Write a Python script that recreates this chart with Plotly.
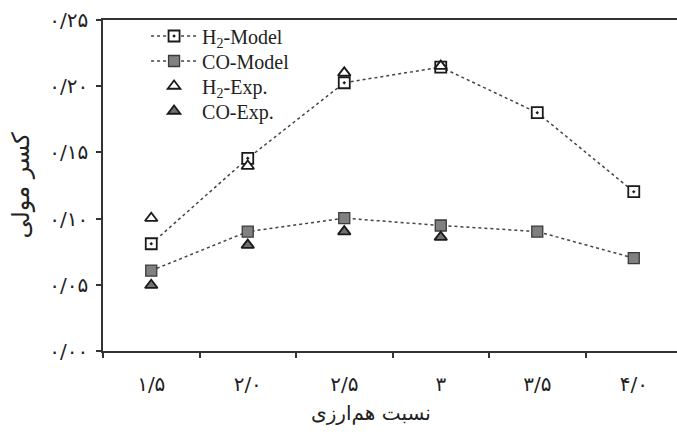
import plotly.graph_objects as go

# Equivalence ratio categories (Persian numerals)
ratios = ["۱/۵", "۲/۰", "۲/۵", "۳", "۳/۵", "۴/۰"]

# Mole fractions
h2_model = [0.081, 0.1455, 0.2026, 0.2144, 0.180, 0.1203]
co_model = [0.0607, 0.0902, 0.1003, 0.0948, 0.0902, 0.0702]
h2_exp = [0.1003, 0.1397, 0.2101, 0.2152]
co_exp = [0.0497, 0.080, 0.0902, 0.086]

y_ticks = [0.0, 0.05, 0.10, 0.15, 0.20, 0.25]
y_ticktext = ["۰/۰۰", "۰/۰۵", "۰/۱۰", "۰/۱۵", "۰/۲۰", "۰/۲۵"]

x_title = "نسبت هم‌ارزی"
y_title = "کسر مولی"

line_style = dict(color="#444444", width=1.5, dash="dot")
persian_font = "DejaVu Sans"
ink = "#222222"

fig = go.Figure()
fig.add_trace(go.Scatter(
    x=ratios, y=h2_model, name="H<sub>2</sub>-Model", mode="lines+markers",
    line=line_style, legend="legend",
    marker=dict(symbol="square-dot", size=11, color="white",
                line=dict(color="#1a1a1a", width=1.8)),
))
fig.add_trace(go.Scatter(
    x=ratios, y=co_model, name="CO-Model", mode="lines+markers",
    line=line_style, legend="legend2",
    marker=dict(symbol="square", size=11, color="#808080",
                line=dict(color="#3a3a3a", width=1.3)),
))
fig.add_trace(go.Scatter(
    x=ratios[:len(h2_exp)], y=h2_exp, name="H<sub>2</sub>-Exp.", mode="markers",
    legend="legend3",
    marker=dict(symbol="triangle-up", size=11, color="white",
                line=dict(color="#1a1a1a", width=1.8)),
))
fig.add_trace(go.Scatter(
    x=ratios[:len(co_exp)], y=co_exp, name="CO-Exp.", mode="markers",
    legend="legend4",
    marker=dict(symbol="triangle-up", size=11, color="#707070",
                line=dict(color="#1a1a1a", width=1.8)),
))

legend_common = dict(
    xanchor="left", yanchor="middle", x=0.075,
    bgcolor="rgba(0,0,0,0)",
    font=dict(family="Liberation Serif", size=20, color=ink),
    itemwidth=46,
)

fig.update_layout(
    width=677, height=434,
    margin=dict(l=103, r=0, t=20, b=83),
    plot_bgcolor="white", paper_bgcolor="white",
    font=dict(family=persian_font, color=ink),
    showlegend=True,
    legend=dict(legend_common, y=1 - (36 - 20) / 331),
    legend2=dict(legend_common, y=1 - (61 - 20) / 331),
    legend3=dict(legend_common, y=1 - (86 - 20) / 331),
    legend4=dict(legend_common, y=1 - (111 - 20) / 331),
    xaxis=dict(
        type="category", range=[-0.5, 5.448],
        showline=True, linecolor="#333333", linewidth=1.5, mirror=True,
        ticks="outside", ticklen=5, tickwidth=1.5, tickcolor="#333333",
        tickson="boundaries", showgrid=False, zeroline=False,
        ticklabelstandoff=14,
        tickfont=dict(family=persian_font, size=20, color=ink),
    ),
    yaxis=dict(
        range=[0, 0.25], tickvals=y_ticks, ticktext=y_ticktext,
        showline=True, linecolor="#333333", linewidth=1.5,
        ticks="outside", ticklen=5, tickwidth=1.5, tickcolor="#333333",
        showgrid=False, zeroline=False, ticklabelstandoff=4,
        tickfont=dict(family=persian_font, size=20, color=ink),
    ),
    annotations=[
        dict(text=x_title, xref="paper", yref="paper",
             x=(371 - 103) / 574, y=-(413 - 351) / 331,
             xanchor="center", yanchor="middle", showarrow=False,
             font=dict(family=persian_font, size=20, color=ink)),
        dict(text=y_title, xref="paper", yref="paper",
             x=-(103 - 20) / 574, y=0.5, textangle=-90,
             xanchor="center", yanchor="middle", showarrow=False,
             font=dict(family=persian_font, size=24, color=ink)),
    ],
)

fig.write_html("out.html")
